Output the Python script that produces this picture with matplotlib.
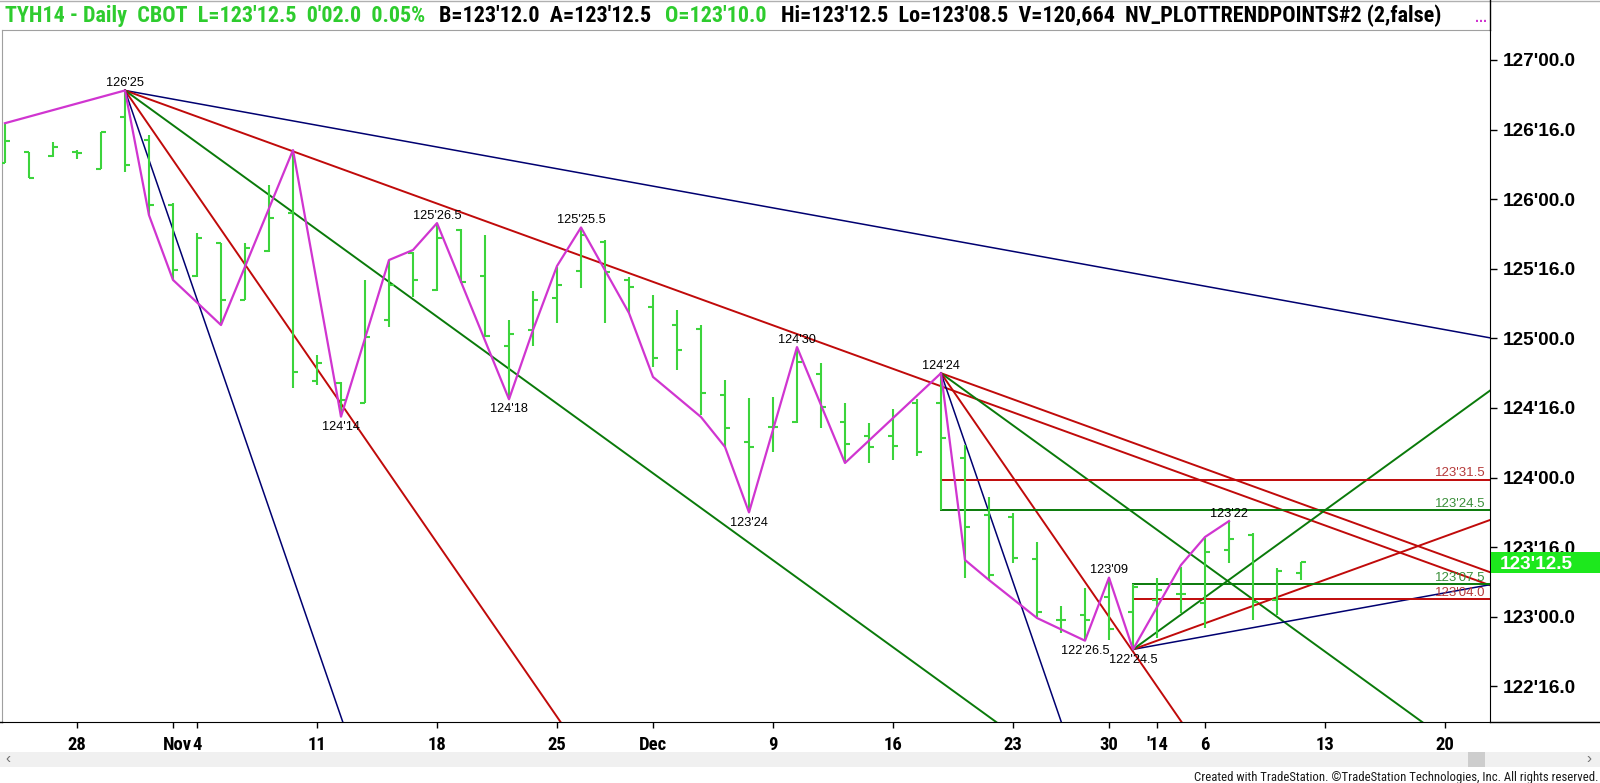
import matplotlib
matplotlib.use('Agg')
import matplotlib.pyplot as plt
from matplotlib import font_manager as fm
from matplotlib.patches import Rectangle
from matplotlib.transforms import blended_transform_factory, ScaledTranslation
import numpy as np

# ---- daily bars TYH14, Oct 23 2013 .. Jan 10 2014 (bar index 0..54) ----
opens = [126.262, 126.341, 126.310, 126.341, 126.217, 126.593, 126.425, 125.958, 125.448, 125.688,
         125.276, 125.630, 125.901, 124.694, 124.680, 124.536, 125.130, 125.610, 125.348, 125.780,
         125.448, 124.947, 125.060, 125.290, 125.486, 125.695, 125.420, 125.228, 125.096, 125.068,
         124.593, 124.258, 124.366, 124.400, 124.744, 124.402, 124.300, 124.300, 124.536, 124.536,
         124.141, 123.731, 123.719, 123.415, 122.977, 123.013, 123.140, 123.037, 123.120, 123.160,
         123.100, 123.480, 123.590, 123.120, 123.3125]
highs = [126.546, 126.341, 126.413, 126.353, 126.485, 126.78125, 126.461, 125.971, 125.755, 125.688,
         125.683, 126.102, 126.353, 124.881, 124.689, 125.420, 125.563, 125.623, 125.828125, 125.784,
         125.743, 125.132, 125.341, 125.515, 125.796875, 125.707, 125.443, 125.312, 125.204, 125.096,
         124.701, 124.570, 124.581, 124.9375, 124.821, 124.534, 124.394, 124.491, 124.563, 124.75,
         124.234, 123.863, 123.744, 123.540, 123.078, 123.205, 123.28125, 123.234, 123.279, 123.360,
         123.564, 123.6875, 123.600, 123.350, 123.390625]
lows = [126.258, 126.150, 126.301, 126.287, 126.215, 126.198, 125.885, 125.420, 125.443, 125.096,
        125.276, 125.623, 124.642, 124.665, 124.4375, 124.536, 125.084, 125.300, 125.341, 125.396,
        125.012, 124.5625, 124.947, 125.108, 125.360, 125.108, 125.180, 124.797, 124.773, 124.450,
        124.222, 123.75, 124.186, 124.392, 124.354, 124.103, 124.103, 124.126, 124.155, 123.765625,
        123.277, 123.264, 123.384, 123.000, 122.884, 122.828125, 122.830, 122.765625, 122.848, 123.027,
        122.917, 123.384, 122.977, 123.013, 123.265625]
closes = [126.420, 126.150, 126.377, 126.330, 126.485, 126.246, 125.958, 125.490, 125.721, 125.276,
          125.650, 125.865, 124.761, 124.823, 124.557, 125.012, 125.380, 125.420, 125.720, 125.407,
          125.017, 125.030, 125.276, 125.384, 125.743, 125.479, 125.370, 124.857, 124.917, 124.608,
          124.356, 124.222, 124.366, 124.830, 124.509, 124.241, 124.220, 124.227, 124.186, 124.284,
          123.647, 123.300, 123.422, 123.037, 122.980, 122.977, 122.910, 123.216, 123.190, 123.160,
          123.463, 123.560, 123.109, 123.328, 123.390625]

# swing line (NV_PLOTTRENDPOINTS)
swing_idx = [0, 5, 6, 7, 9, 12, 14, 16, 17, 18, 21, 22, 23, 24, 26, 27, 29, 30, 31, 33, 35, 39,
             40, 41, 43, 45, 46, 47, 49, 50, 51]
swing_px = [126.546, 126.78125, 125.885, 125.420, 125.096, 126.353, 124.4375, 125.563, 125.635,
            125.828125, 124.5625, 125.060, 125.520, 125.796875, 125.182, 124.723, 124.435, 124.220,
            123.75, 124.9375, 124.105, 124.75, 123.408, 123.264, 122.991, 122.828125, 123.28125,
            122.765625, 123.372, 123.573, 123.6875]

# labelled pivots
piv_idx = [5, 14, 18, 21, 24, 31, 33, 39, 45, 46, 47, 51]
piv_px = [126.78125, 124.4375, 125.828125, 124.5625, 125.796875, 123.75, 124.9375, 124.75,
          122.828125, 123.28125, 122.765625, 123.6875]
piv_txt = ["126'25", "124'14", "125'26.5", "124'18", "125'25.5", "123'24", "124'30", "124'24",
           "122'26.5", "123'09", "122'24.5", "123'22"]
piv_up = [True, False, True, False, True, False, True, True, False, True, False, True]

# fan lines: start bar, start price, slope in ticks (1/32) per bar, colour
fan_start = [5, 5, 5, 5, 5, 39, 39, 39, 39, 47, 47, 47]
fan_px = [126.78125] * 5 + [124.75] * 4 + [122.765625] * 3
fan_slope = [-1, -2, -4, -8, -16, -2, -4, -8, -16, 1, 2, 4]
fan_col = ['navy', 'red', 'green', 'red', 'navy', 'red', 'green', 'red', 'navy', 'navy', 'red', 'green']

# horizontal levels
lvl_start = [39, 39, 47, 47]
lvl_px = [123.984375, 123.765625, 123.234375, 123.125]
lvl_txt = ["123'31.5", "123'24.5", "123'07.5", "123'04.0"]
lvl_col = ['red', 'green', 'green', 'red']

# x axis
tick_idx = [3, 7, 8, 13, 18, 23, 27, 32, 37, 42, 46, 48, 50, 55, 60]
tick_lbl = ['28', 'Nov', '4', '11', '18', '25', 'Dec', '9', '16', '23', '30', "'14", '6', '13', '20']
yticks = np.arange(122.5, 127.01, 0.5)

LINE = {'navy': '#000070', 'red': '#c00a0a', 'green': '#0a7a0a'}
TXT = {'red': '#b53a3a', 'green': '#3a8f3a'}
BAR = '#3cd43c'
MAG = '#d035d0'
HGREEN = '#2ecc2e'


def weight(f):
    w = f.weight
    return w if isinstance(w, int) else fm.weight_dict.get(w, 400)


bold_fams = {f.name for f in fm.fontManager.ttflist if weight(f) >= 700}
NARROW = next((n for n in ['Liberation Sans Narrow', 'Arial Narrow', 'Archivo Narrow', 'Roboto Condensed',
                           'PT Sans Narrow', 'Fira Sans Condensed', 'IBM Plex Sans Condensed',
                           'Barlow Semi Condensed', 'Asap Condensed', 'Barlow Condensed']
               if n in bold_fams), 'Liberation Sans')
plt.rcParams['font.family'] = 'Liberation Sans'

W, H = 1600, 783
fig = plt.figure(figsize=(16, 7.83), dpi=100)
ax = fig.add_axes([2 / W, (H - 722) / H, 1488 / W, 692 / H])

x = np.arange(len(opens))
ax.vlines(x, lows, highs, color=BAR, lw=1.5, zorder=3)
ax.hlines(opens, x - 0.2, x, color=BAR, lw=1.5, zorder=3)
ax.hlines(closes, x, x + 0.2, color=BAR, lw=1.5, zorder=3)

xmin, xmax = -0.125, 61.875
for s, p, k, c in zip(fan_start, fan_px, fan_slope, fan_col):
    ax.plot([s, xmax], [p, p + k / 32 * (xmax - s)], color=LINE[c],
            lw=1.1 if c == 'navy' else 1.4, zorder=2)

for s, p, t, c in zip(lvl_start, lvl_px, lvl_txt, lvl_col):
    ax.plot([s, xmax], [p, p], color=LINE[c], lw=1.4, zorder=2)
    ax.annotate(t, xy=(xmax, p), xytext=(-3.5, 2.5), textcoords='offset points',
                ha='right', va='baseline', fontsize=9.5, color=TXT[c], zorder=4)

ax.plot(swing_idx, swing_px, color=MAG, lw=1.6, zorder=4)

for i, p, t, up in zip(piv_idx, piv_px, piv_txt, piv_up):
    ax.annotate(t, xy=(i, p), xytext=(0, 3 if up else -3), textcoords='offset points',
                ha='center', va='baseline' if up else 'top', fontsize=9.2, color='black', zorder=5)

ax.set_xlim(xmin, xmax)
ax.set_ylim(122.244, 127.2155)


def fmt32(v, pos=None):
    whole = int(np.floor(v + 1e-9))
    return "%d'%04.1f" % (whole, (v - whole) * 32)


ax.yaxis.tick_right()
ax.set_yticks(yticks)
ax.set_yticklabels([fmt32(v) for v in yticks])
ax.tick_params(axis='y', direction='out', length=5, width=1, pad=4, labelsize=13.7)
for lb in ax.get_yticklabels():
    lb.set_fontweight('bold')
ax.set_xticks(tick_idx)
ax.set_xticklabels(tick_lbl)
ax.tick_params(axis='x', direction='out', length=4, width=1, pad=6,
               labelsize=13.4 if NARROW != 'Liberation Sans' else 11.8)
for lb in ax.get_xticklabels():
    lb.set_fontweight('bold')
    lb.set_family(NARROW)
    if lb.get_text() == 'Nov':  # month label sits tight against the "4" of the week tick
        lb.set_transform(lb.get_transform() + ScaledTranslation(4 / 100, 0, fig.dpi_scale_trans))
for sp in ['top', 'left']:
    ax.spines[sp].set_color('#a0a0a0')
ax.spines['right'].set_color('black')
ax.spines['bottom'].set_color('black')

# last price box
last = closes[-1]
bt = blended_transform_factory(ax.transAxes, ax.transData)
ax.add_patch(Rectangle((1.0005, last - 0.0755), 109 / 1488, 0.151, transform=bt,
                       facecolor='#1de81d', edgecolor='none', clip_on=False, zorder=6))
ax.text(1 + 10 / 1488, last, fmt32(last), transform=bt, ha='left', va='center_baseline',
        color='white', fontsize=13.7, fontweight='bold', zorder=7, clip_on=False)

# ---- chrome in pixel coordinates ----
ov = fig.add_axes([0, 0, 1, 1], zorder=10)
ov.set_xlim(0, W)
ov.set_ylim(H, 0)
ov.axis('off')
ov.patch.set_alpha(0)
ov.plot([0, W], [1, 1], color='#b0b0b0', lw=1)
ov.plot([1490, 1490], [0, 30], color='black', lw=1)
ov.plot([1490, W], [722, 722], color='black', lw=1)
ov.plot([0, 2], [722, 722], color='black', lw=1)
ov.add_patch(Rectangle((0, 752), W, 15, facecolor='#f0f0f0', edgecolor='none'))
ov.add_patch(Rectangle((1468, 752), 17, 15, facecolor='#cdcdcd', edgecolor='none'))
ov.text(8, 759.5, '‹', ha='center', va='center', fontsize=11, color='#707070')
ov.text(1589, 759.5, '›', ha='center', va='center', fontsize=11, color='#707070')
copy = ov.text(1598, 781, 'Created with TradeStation. \u00a9TradeStation Technologies, Inc. All rights reserved.',
               ha='right', va='baseline', fontsize=9, family=NARROW, color='#1a1a1a')

hdr_txt = ["TYH14 - Daily  CBOT  L=123'12.5  0'02.0  0.05%", "B=123'12.0  A=123'12.5",
           "O=123'10.0", "Hi=123'12.5  Lo=123'08.5  V=120,664  NV_PLOTTRENDPOINTS#2 (2,false)"]
hdr_col = [HGREEN, 'black', HGREEN, 'black']
hdr = [ov.text(5, 22, hdr_txt[0], ha='left', va='baseline', fontsize=15, fontweight='bold',
               family=NARROW, color=hdr_col[0])]
for t, c in zip(hdr_txt[1:], hdr_col[1:]):
    hdr.append(ov.annotate(t, xy=(1, 0), xycoords=hdr[-1], xytext=(10, 0), textcoords='offset points',
                           ha='left', va='bottom', fontsize=15, fontweight='bold',
                           family=NARROW, color=c))
ov.text(1481, 22, '...', ha='center', va='baseline', fontsize=10, fontweight='bold', color=MAG)

# fit header width (ends near x=1452) and copyright (starts near x=1193)
fig.canvas.draw()
r = fig.canvas.get_renderer()
end = hdr[-1].get_window_extent(r).x1
k = (1452 - 5) / (end - 5)
for t in hdr:
    t.set_fontsize(15 * k)
cw = copy.get_window_extent(r).width
copy.set_fontsize(9 * (1598 - 1193) / cw)

fig.savefig('out.png', dpi=100, facecolor='white')
